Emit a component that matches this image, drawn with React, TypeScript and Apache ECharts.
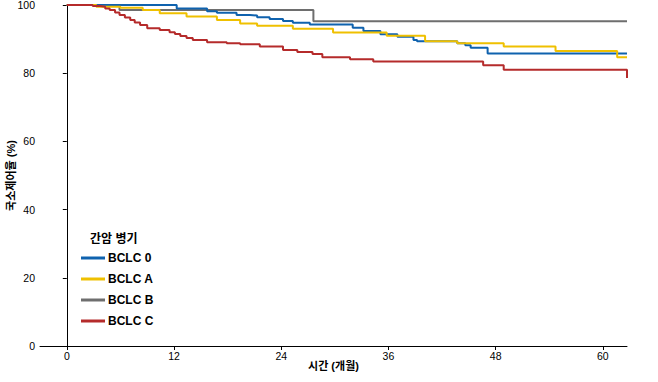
import React, { useEffect, useRef } from "react";
import * as echarts from "echarts";

const seriesNames = ["BCLC 0", "BCLC A", "BCLC B", "BCLC C"];
const seriesColors = ["#0F62AE", "#EFC000", "#6E6E6E", "#B52B2B"];

const xTicks = [0, 12, 24, 36, 48, 60];
const yTicks = [0, 20, 40, 60, 80, 100];

// [month, local control rate %]
const bclc0: number[][] = [
  [0, 100], [12.3, 99.0], [15.7, 98.2], [16.8, 97.7], [19.0, 97.1], [20.5, 96.9],
  [21.3, 96.4], [22.7, 95.9], [24.2, 95.3], [25.3, 94.8], [27.2, 94.3], [32.0, 93.3],
  [33.2, 92.4], [35.1, 91.4], [37.0, 90.7], [38.8, 89.7], [39.2, 89.4], [43.7, 88.8],
  [44.6, 88.2], [45.2, 87.5], [47.1, 85.8], [62.7, 85.8],
];
const bclcA: number[][] = [
  [0, 100], [3.3, 99.5], [6.0, 99.2], [8.5, 98.5], [10.4, 97.6], [13.4, 96.6],
  [16.8, 95.6], [19.4, 94.6], [21.3, 93.9], [25.3, 93.0], [29.8, 91.9], [35.8, 91.0],
  [40.1, 89.4], [43.7, 88.8], [48.9, 87.8], [54.7, 86.5], [61.6, 84.7], [62.7, 84.7],
];
const bclcB: number[][] = [
  [0, 100], [5.9, 98.5], [27.6, 95.2], [62.7, 95.2],
];
const bclcC: number[][] = [
  [0, 100], [2.9, 99.7], [3.7, 99.5], [4.3, 99.0], [4.8, 98.5], [5.4, 97.8],
  [5.9, 97.1], [6.5, 96.3], [7.1, 95.6], [7.6, 94.9], [8.2, 94.1], [9.0, 93.2],
  [10.4, 92.7], [11.5, 92.0], [12.1, 91.5], [12.7, 90.9], [13.4, 90.3], [14.1, 89.7],
  [15.7, 89.1], [17.9, 88.8], [19.4, 88.5], [21.6, 87.8], [24.2, 86.8], [25.8, 86.2],
  [27.5, 85.6], [28.6, 84.7], [31.7, 84.1], [34.3, 83.4], [46.6, 82.3], [48.9, 81.0],
  [62.7, 81.0], [62.7, 78.6],
];

const allData = [bclc0, bclcA, bclcB, bclcC];

const FONT = "'Liberation Sans', Arial, 'Noto Sans CJK KR', sans-serif";

export default function App() {
  const ref = useRef<HTMLDivElement>(null);
  useEffect(() => {
    if (!ref.current) return;
    const chart = echarts.init(ref.current, undefined, { renderer: "svg" });
    chart.setOption({
      animation: false,
      backgroundColor: "#ffffff",
      textStyle: { fontFamily: FONT },
      grid: { left: 40, right: 31, top: 5, bottom: 36, containLabel: false, outerBoundsMode: "none" },
      title: {
        text: "간암 병기",
        left: 85,
        top: 228,
        textStyle: { fontFamily: FONT, fontSize: 12, fontWeight: "bold", color: "#000" },
      },
      legend: {
        orient: "vertical",
        left: 76,
        top: 247,
        itemWidth: 24,
        itemHeight: 3,
        itemGap: 9,
        icon: "rect",
        data: seriesNames,
        textStyle: { fontFamily: FONT, fontSize: 12, fontWeight: "bold", color: "#000", padding: [0, 0, 0, -2] },
      },
      xAxis: {
        type: "value",
        min: -3,
        max: 62.7,
        name: "시간 (개월)",
        nameLocation: "middle",
        nameGap: 14,
        nameMoveOverlap: false,
        nameTextStyle: { fontFamily: FONT, fontSize: 11, fontWeight: "bold", color: "#000" },
        axisLine: { show: true, onZero: false, lineStyle: { color: "#000", width: 1 } },
        axisTick: { show: true, length: 4, lineStyle: { color: "#000" }, customValues: xTicks },
        axisLabel: { fontSize: 10.5, color: "#000", fontFamily: FONT, margin: 5, customValues: xTicks },
        splitLine: { show: false },
      },
      yAxis: {
        type: "value",
        min: 0,
        max: 100,
        interval: 20,
        name: "국소제어율 (%)",
        nameLocation: "middle",
        nameGap: 24,
        nameMoveOverlap: false,
        nameRotate: 90,
        nameTextStyle: { fontFamily: FONT, fontSize: 11, fontWeight: "bold", color: "#000" },
        axisLine: { show: true, lineStyle: { color: "#000", width: 1 } },
        axisTick: { show: true, length: 4, lineStyle: { color: "#000" } },
        axisLabel: {
          fontSize: 10.5, color: "#000", fontFamily: FONT, margin: 5,
          formatter: (v: number) => (yTicks.includes(v) ? String(v) : ""),
        },
        splitLine: { show: false },
      },
      series: allData.map((d, i) => ({
        name: seriesNames[i],
        type: "line",
        step: "end",
        data: d,
        symbol: "none",
        lineStyle: { color: seriesColors[i], width: 2 },
        itemStyle: { color: seriesColors[i] },
        z: i === 2 ? 1 : 2,
      })),
    });
    return () => chart.dispose();
  }, []);
  return (
    <div
      ref={ref}
      style={{ position: "absolute", left: 0, top: 0, width: 658, height: 382 }}
    />
  );
}
